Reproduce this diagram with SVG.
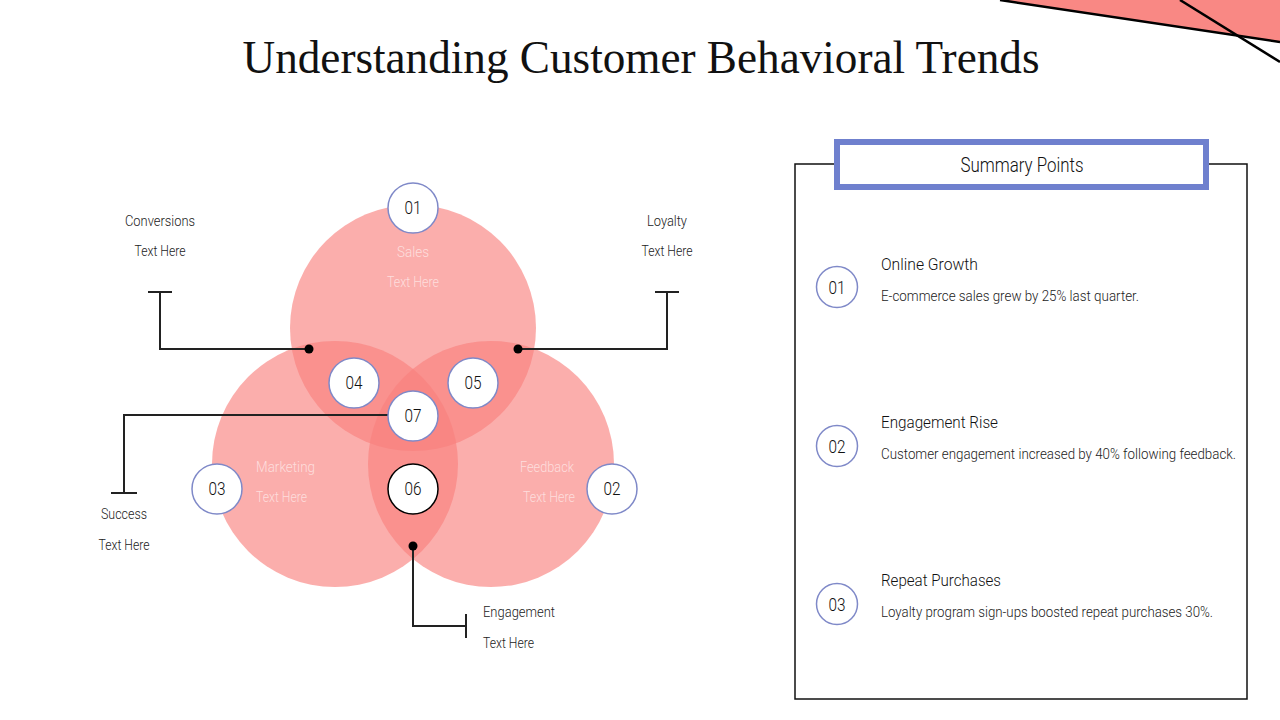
<svg xmlns="http://www.w3.org/2000/svg" width="1280" height="720" viewBox="0 0 1280 720">
  <style>
    .venn { fill: #F8817D; fill-opacity: 0.64; }
    .num { fill: #fff; stroke: #7F89C8; stroke-width: 1.5; }
    .numtxt { font-family: Roboto, "Liberation Sans", sans-serif; font-size: 18px; font-weight: 300; fill: #111; text-anchor: middle; }
    .lbl { font-family: Roboto, "Liberation Sans", sans-serif; font-size: 15px; font-weight: 300; fill: #222; }
    .inl { font-family: Roboto, "Liberation Sans", sans-serif; font-size: 15px; font-weight: 300; fill: #fff; fill-opacity: 0.6; }
    .conn { fill: none; stroke: #222; stroke-width: 2; }
    .dot { fill: #000; }
    .ttl { font-family: Roboto, "Liberation Sans", sans-serif; font-size: 17px; font-weight: 300; fill: #111; }
    .desc { font-family: Roboto, "Liberation Sans", sans-serif; font-size: 14px; font-weight: 300; fill: #222; }
  </style>

  <!-- top-right decoration -->
  <g id="decoration">
    <polygon points="1000,0 1280,0 1280,42" fill="#F98884"/>
    <line x1="1000" y1="0" x2="1280" y2="42" stroke="#000" stroke-width="2.5"/>
    <line x1="1180" y1="0" x2="1280" y2="62" stroke="#000" stroke-width="2.5"/>
  </g>

  <!-- title -->
  <text x="641" y="73" text-anchor="middle" font-family="'Liberation Serif', serif" font-size="47" fill="#111" textLength="797" lengthAdjust="spacingAndGlyphs">Understanding Customer Behavioral Trends</text>

  <!-- venn circles -->
  <g id="venn-sales"><circle class="venn" cx="413" cy="328" r="123"/></g>
  <g id="venn-marketing"><circle class="venn" cx="335" cy="464" r="123"/></g>
  <g id="venn-feedback"><circle class="venn" cx="491" cy="464" r="123"/></g>

  <!-- labels inside circles -->
  <g id="label-sales">
    <text class="inl" x="413" y="257" text-anchor="middle" textLength="32" lengthAdjust="spacingAndGlyphs">Sales</text>
    <text class="inl" x="413" y="287" text-anchor="middle" textLength="52" lengthAdjust="spacingAndGlyphs">Text Here</text>
  </g>
  <g id="label-marketing">
    <text class="inl" x="256" y="472" textLength="59" lengthAdjust="spacingAndGlyphs">Marketing</text>
    <text class="inl" x="256" y="502" textLength="51" lengthAdjust="spacingAndGlyphs">Text Here</text>
  </g>
  <g id="label-feedback">
    <text class="inl" x="574" y="472" text-anchor="end" textLength="54" lengthAdjust="spacingAndGlyphs">Feedback</text>
    <text class="inl" x="575" y="502" text-anchor="end" textLength="52" lengthAdjust="spacingAndGlyphs">Text Here</text>
  </g>

  <!-- connectors -->
  <g id="connectors">
    <path class="conn" d="M309,349 H160 V292 M148,292 H172"/>
    <circle class="dot" cx="309" cy="349" r="4.5"/>
    <path class="conn" d="M518,349 H667 V292 M655,292 H679"/>
    <circle class="dot" cx="518" cy="349" r="4.5"/>
    <path class="conn" d="M395,415 H124 V493 M111,493 H137"/>
    <path class="conn" d="M413,546 V626 H466 M466,614 V638"/>
    <circle class="dot" cx="413" cy="546" r="4.5"/>
  </g>

  <!-- outside labels -->
  <g id="label-conversions">
    <text class="lbl" x="160" y="226" text-anchor="middle" textLength="70" lengthAdjust="spacingAndGlyphs">Conversions</text>
    <text class="lbl" x="160" y="256" text-anchor="middle" textLength="51" lengthAdjust="spacingAndGlyphs">Text Here</text>
  </g>
  <g id="label-loyalty">
    <text class="lbl" x="667" y="226" text-anchor="middle" textLength="40" lengthAdjust="spacingAndGlyphs">Loyalty</text>
    <text class="lbl" x="667" y="256" text-anchor="middle" textLength="51" lengthAdjust="spacingAndGlyphs">Text Here</text>
  </g>
  <g id="label-success">
    <text class="lbl" x="124" y="519" text-anchor="middle" textLength="46" lengthAdjust="spacingAndGlyphs">Success</text>
    <text class="lbl" x="124" y="550" text-anchor="middle" textLength="51" lengthAdjust="spacingAndGlyphs">Text Here</text>
  </g>
  <g id="label-engagement">
    <text class="lbl" x="483" y="617" textLength="72" lengthAdjust="spacingAndGlyphs">Engagement</text>
    <text class="lbl" x="483" y="648" textLength="51" lengthAdjust="spacingAndGlyphs">Text Here</text>
  </g>

  <!-- number nodes -->
  <g id="node-01"><circle class="num" cx="413" cy="208" r="25"/><text class="numtxt" x="413" y="214" textLength="17" lengthAdjust="spacingAndGlyphs">01</text></g>
  <g id="node-04"><circle class="num" cx="354" cy="383" r="25"/><text class="numtxt" x="354" y="389" textLength="17" lengthAdjust="spacingAndGlyphs">04</text></g>
  <g id="node-05"><circle class="num" cx="473" cy="383" r="25"/><text class="numtxt" x="473" y="389" textLength="17" lengthAdjust="spacingAndGlyphs">05</text></g>
  <g id="node-07"><circle class="num" cx="413" cy="416" r="25"/><text class="numtxt" x="413" y="422" textLength="17" lengthAdjust="spacingAndGlyphs">07</text></g>
  <g id="node-03"><circle class="num" cx="217" cy="489" r="25"/><text class="numtxt" x="217" y="495" textLength="17" lengthAdjust="spacingAndGlyphs">03</text></g>
  <g id="node-06"><circle class="num" cx="413" cy="489" r="25" style="stroke:#000"/><text class="numtxt" x="413" y="495" textLength="17" lengthAdjust="spacingAndGlyphs">06</text></g>
  <g id="node-02"><circle class="num" cx="612" cy="489" r="25"/><text class="numtxt" x="612" y="495" textLength="17" lengthAdjust="spacingAndGlyphs">02</text></g>

  <!-- summary panel -->
  <g id="summary-panel">
    <rect x="795" y="164" width="452" height="535" fill="none" stroke="#111" stroke-width="1.5"/>
    <rect x="837" y="142" width="369" height="45" fill="#fff" stroke="#6F80CE" stroke-width="6"/>
    <text x="1022" y="172" text-anchor="middle" font-family="Roboto, 'Liberation Sans', sans-serif" font-size="20" font-weight="300" fill="#111" textLength="123" lengthAdjust="spacingAndGlyphs">Summary Points</text>
  </g>

  <g id="summary-01">
    <circle class="num" cx="837" cy="287" r="20.5"/>
    <text class="numtxt" x="837" y="294" textLength="17" lengthAdjust="spacingAndGlyphs">01</text>
    <text class="ttl" x="881" y="270" textLength="97" lengthAdjust="spacingAndGlyphs">Online Growth</text>
    <text class="desc" x="881" y="301" textLength="258" lengthAdjust="spacingAndGlyphs">E-commerce sales grew by 25% last quarter.</text>
  </g>
  <g id="summary-02">
    <circle class="num" cx="837" cy="446" r="20.5"/>
    <text class="numtxt" x="837" y="453" textLength="17" lengthAdjust="spacingAndGlyphs">02</text>
    <text class="ttl" x="881" y="428" textLength="117" lengthAdjust="spacingAndGlyphs">Engagement Rise</text>
    <text class="desc" x="881" y="459" textLength="355" lengthAdjust="spacingAndGlyphs">Customer engagement increased by 40% following feedback.</text>
  </g>
  <g id="summary-03">
    <circle class="num" cx="837" cy="604" r="20.5"/>
    <text class="numtxt" x="837" y="611" textLength="17" lengthAdjust="spacingAndGlyphs">03</text>
    <text class="ttl" x="881" y="586" textLength="120" lengthAdjust="spacingAndGlyphs">Repeat Purchases</text>
    <text class="desc" x="881" y="617" textLength="332" lengthAdjust="spacingAndGlyphs">Loyalty program sign-ups boosted repeat purchases 30%.</text>
  </g>
</svg>
